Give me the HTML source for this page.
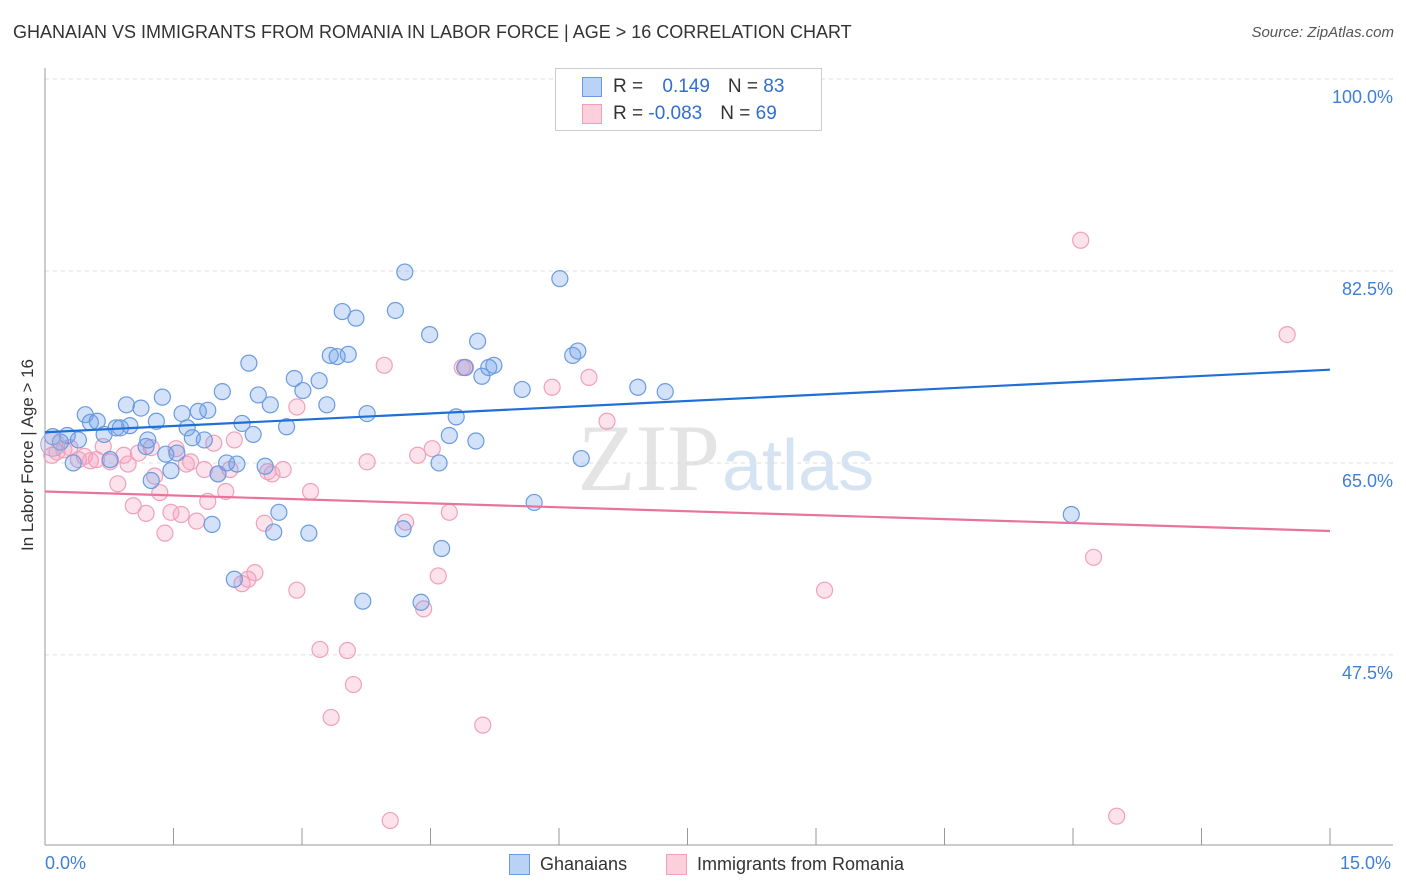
<!DOCTYPE html>
<html><head><meta charset="utf-8"><style>
body{margin:0;background:#fff;font-family:"Liberation Sans",sans-serif;}
#wrap{position:relative;width:1406px;height:892px;overflow:hidden;}
.t{position:absolute;white-space:nowrap;}
</style></head><body>
<div id="wrap">
<div class="t" style="left:13px;top:22px;font-size:18px;color:#333;">GHANAIAN VS IMMIGRANTS FROM ROMANIA IN LABOR FORCE | AGE &gt; 16 CORRELATION CHART</div>
<div class="t" style="right:12px;top:24px;font-size:15px;color:#555;font-style:italic;">Source: ZipAtlas.com</div>
<svg id="plot" width="1406" height="892" style="position:absolute;left:0;top:0">
<text x="720" y="490" text-anchor="end" font-family="Liberation Serif" font-size="95" fill="#e4e4e4">ZIP</text>
<text x="722" y="490" font-family="Liberation Sans" font-size="72" fill="#d6e3f3">atlas</text>
</svg>
<div class="t" style="left:28px;top:455px;font-size:17px;color:#333;transform:translate(-50%,-50%) rotate(-90deg);">In Labor Force | Age &gt; 16</div>
<div class="t" style="left:45px;top:853px;font-size:18px;color:#3f7fd8;">0.0%</div>
<div class="t" style="left:1340px;top:853px;font-size:18px;color:#3f7fd8;">15.0%</div>
<div style="position:absolute;left:555px;top:68px;width:265px;height:61px;border:1px solid #ccc;background:#fff;">
 <div style="position:absolute;left:26px;top:8px;width:18px;height:18px;background:#b9d2f5;border:1px solid #6a9be0;"></div>
 <div class="t" style="left:57px;top:7px;font-size:19px;color:#333;">R = <span style="color:#2f6fd0;margin-left:14px">0.149</span><span style="margin-left:18px">N = </span><span style="color:#2f6fd0">83</span></div>
 <div style="position:absolute;left:26px;top:35px;width:18px;height:18px;background:#fbd0dc;border:1px solid #f0a0bb;"></div>
 <div class="t" style="left:57px;top:34px;font-size:19px;color:#333;">R = <span style="color:#2f6fd0;">-0.083</span><span style="margin-left:18px">N = </span><span style="color:#2f6fd0">69</span></div>
</div>
<div style="position:absolute;left:509px;top:854px;">
 <div style="position:absolute;left:0;top:0;width:19px;height:19px;background:#b9d2f5;border:1px solid #6a9be0;"></div>
 <div class="t" style="left:31px;top:0;font-size:18px;color:#333;">Ghanaians</div></div>
<div style="position:absolute;left:666px;top:854px;">
 <div style="position:absolute;left:0;top:0;width:19px;height:19px;background:#fbd0dc;border:1px solid #f0a0bb;"></div>
 <div class="t" style="left:31px;top:0;font-size:18px;color:#333;">Immigrants from Romania</div></div>
</div>
<script>
const yTicks=[100,82.5,65,47.5];
const yTickLabels=["100.0%","82.5%","65.0%","47.5%"];
const blueX=[0.09,0.18,0.26,0.33,0.39,0.47,0.53,0.61,0.69,0.76,0.83,0.88,0.95,0.99,1.12,1.18,1.20,1.30,1.24,1.37,1.41,1.47,1.54,1.60,1.66,1.72,1.79,1.86,1.90,1.95,2.02,2.07,2.12,2.21,2.24,2.30,2.38,2.43,2.49,2.57,2.63,2.67,2.73,2.82,2.91,3.01,3.08,3.20,3.29,3.33,3.41,3.47,3.54,3.63,3.71,3.76,4.09,4.18,4.20,4.39,4.49,4.63,4.60,4.72,4.80,4.90,5.03,5.05,5.10,5.18,5.24,5.57,5.71,6.01,6.16,6.22,6.26,6.92,7.24,11.98];
const blueY=[67.4,66.9,67.5,65.0,67.1,69.4,68.7,68.8,67.6,65.3,68.2,68.2,70.3,68.4,70.0,66.5,67.1,68.8,63.4,71.0,65.8,64.3,65.9,69.5,68.2,67.3,69.7,67.1,69.8,59.4,64.0,71.5,65.0,54.4,64.9,68.6,74.1,67.6,71.2,64.7,70.3,58.7,60.5,68.3,72.7,71.6,58.6,72.5,70.3,74.8,74.7,78.8,74.9,78.2,52.4,69.5,78.9,59.0,82.4,52.3,76.7,57.2,65.0,67.5,69.2,73.7,67.0,76.1,72.9,73.7,73.9,71.7,61.4,81.8,74.8,75.2,65.4,71.9,71.5,60.3];
const pinkX=[0.08,0.14,0.22,0.29,0.39,0.46,0.53,0.60,0.68,0.76,0.85,0.92,0.97,1.03,1.09,1.18,1.24,1.28,1.34,1.40,1.47,1.53,1.59,1.65,1.70,1.77,1.86,1.90,1.97,2.02,2.11,2.16,2.21,2.30,2.37,2.45,2.56,2.60,2.65,2.78,2.94,2.94,3.10,3.21,3.34,3.53,3.60,3.76,3.96,4.03,4.21,4.35,4.42,4.52,4.59,4.72,4.87,4.91,5.11,5.92,6.35,6.56,9.10,12.09,12.24,12.51,14.50];
const pinkY=[65.7,66.0,66.2,66.4,65.3,65.6,65.2,65.3,66.5,65.1,63.1,65.7,64.9,61.1,65.9,60.4,66.4,63.8,62.3,58.6,60.5,66.3,60.3,64.9,65.1,59.7,64.4,61.5,66.8,64.0,62.4,64.4,67.1,54.0,54.4,55.0,59.5,64.2,64.0,64.4,70.1,53.4,62.4,48.0,41.8,47.9,44.8,65.1,73.9,32.4,59.6,65.7,51.7,66.3,54.7,60.5,73.7,73.7,41.1,71.9,72.8,68.8,53.4,85.3,56.4,32.8,76.7];
const blueTrend=[67.8,73.5];
const pinkTrend=[62.4,58.8];
const xDomain=[0,15];

const X=v=>45+(v-xDomain[0])/(xDomain[1]-xDomain[0])*1285;
const Y=v=>79+(100-v)*10.97;
const svg=document.getElementById('plot');
const NS='http://www.w3.org/2000/svg';
function mk(tag,a){const e=document.createElementNS(NS,tag);for(const k in a)e.setAttribute(k,a[k]);svg.appendChild(e);return e;}
yTicks.forEach((t,i)=>{
 const g=mk('line',{x1:45,x2:1393,y1:Y(t),y2:Y(t),stroke:'#ddd','stroke-dasharray':'4,4'});
 
 
 const l=mk('text',{x:1393,y:Y(t)+24,'text-anchor':'end','font-size':18,fill:'#3f7fd8','font-family':'Liberation Sans'});
 l.textContent=yTickLabels[i];
 
 
});
const ax=mk('line',{x1:45,x2:45,y1:68,y2:845,stroke:'#999'});


const bx=mk('line',{x1:45,x2:1393,y1:845,y2:845,stroke:'#999'});


for(let i=0;i<=10;i++){
 const tk=mk('line',{x1:X(i*1.5),x2:X(i*1.5),y1:828,y2:845,stroke:'#999'});
 
 
}
function pts(xs,ys,fill,stroke,name){
 xs.forEach((x,i)=>{
  const c=mk('circle',{cx:X(x),cy:Y(ys[i]),r:8,fill:fill,stroke:stroke,'stroke-width':1.2});
  
  
 });
}
pts(pinkX,pinkY,'rgba(245,160,190,0.3)','#f0a0bb','point-romania');
pts(blueX,blueY,'rgba(110,160,235,0.3)','#6a9be0','point-ghanaian');
const big=mk('circle',{cx:X(0.09),cy:Y(66.7),r:12,fill:'rgba(180,170,210,0.35)',stroke:'#a9a9d9'});


const bl=mk('line',{x1:X(0),x2:X(15),y1:Y(blueTrend[0]),y2:Y(blueTrend[1]),stroke:'#1f6fd6','stroke-width':2.2});


const pl=mk('line',{x1:X(0),x2:X(15),y1:Y(pinkTrend[0]),y2:Y(pinkTrend[1]),stroke:'#e8739c','stroke-width':2.2});


</script>
</body></html>
